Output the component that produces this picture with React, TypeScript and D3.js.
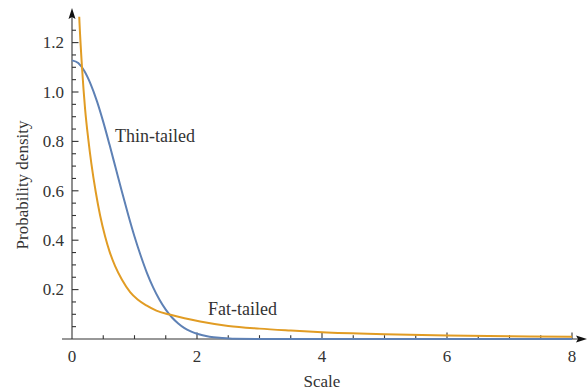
import React from "react";
import { scaleLinear, line, curveMonotoneX, range } from "d3";

// thin-tailed density
const thinX = [0, 0.1, 0.2, 0.3, 0.4, 0.5, 0.6, 0.7, 0.8, 0.9, 1.0, 1.1, 1.2, 1.3, 1.4, 1.5, 1.6, 1.7, 1.8, 1.9, 2.0, 2.2, 2.4, 2.6, 3.0, 4.0, 6.0, 8.0];
const thinY = [1.128, 1.117, 1.084, 1.031, 0.962, 0.879, 0.787, 0.691, 0.595, 0.502, 0.415, 0.337, 0.267, 0.208, 0.159, 0.119, 0.087, 0.063, 0.044, 0.031, 0.021, 0.009, 0.004, 0.001, 0.0001, 0, 0, 0];

// fat-tailed density
const fatX = [0.1, 0.12, 0.16, 0.21, 0.26, 0.31, 0.38, 0.45, 0.53, 0.6, 0.69, 0.8, 0.93, 1.05, 1.19, 1.35, 1.56, 1.8, 2.05, 2.5, 3.0, 3.5, 4.0, 5.0, 6.0, 7.0, 8.0];
const fatY = [1.4, 1.28, 1.1, 0.93, 0.81, 0.71, 0.595, 0.5, 0.415, 0.355, 0.295, 0.24, 0.19, 0.16, 0.136, 0.115, 0.099, 0.084, 0.071, 0.053, 0.042, 0.034, 0.027, 0.019, 0.014, 0.011, 0.009];

const xTicks = [0, 2, 4, 6, 8];
const yTicks = [0.2, 0.4, 0.6, 0.8, 1.0, 1.2];

const W = 588;
const H = 391;
const FONT = "'Liberation Serif', 'Times New Roman', serif";
const AXIS = "#333";

type Pt = [number, number];

export default function App() {
  const x = scaleLinear().domain([0, 8]).range([72, 572]);
  const y = scaleLinear().domain([0, 1.3]).range([339, 339 - 1.3 * 247]);

  const path = line<Pt>()
    .x((d) => x(d[0]))
    .y((d) => y(d[1]))
    .curve(curveMonotoneX);

  const thin: Pt[] = thinX.map((v, i) => [v, thinY[i]]);
  const fat: Pt[] = fatX.map((v, i) => [v, fatY[i]]);

  const x0 = x(0);
  const y0 = y(0);
  const minorX = range(0.5, 8.01, 0.5).filter((v) => !xTicks.includes(v));
  const minorY = range(0.05, 1.26, 0.05).filter(
    (v) => !yTicks.some((t) => Math.abs(t - v) < 1e-6)
  );

  return (
    <div style={{ position: "absolute", left: 0, top: 0 }}>
      <svg width={W} height={H} style={{ display: "block", background: "#fff" }}>
        <defs>
          <clipPath id="plot">
            <rect x={x0 - 2} y={y(1.305)} width={x(8) - x0 + 4} height={y0 - y(1.305) + 3} />
          </clipPath>
        </defs>

        {/* axes */}
        <g stroke={AXIS} strokeWidth={1.1}>
          <line x1={62} x2={578} y1={y0} y2={y0} />
          <line x1={x0} x2={x0} y1={y0} y2={17} />
          {xTicks.filter((v) => v > 0).map((v) => (
            <line key={"xm" + v} x1={x(v)} x2={x(v)} y1={y0} y2={y0 - 6.5} />
          ))}
          {minorX.map((v) => (
            <line key={"xn" + v} x1={x(v)} x2={x(v)} y1={y0} y2={y0 - 3.8} />
          ))}
          {yTicks.map((v) => (
            <line key={"ym" + v} x1={x0} x2={x0 + 6.5} y1={y(v)} y2={y(v)} />
          ))}
          {minorY.map((v) => (
            <line key={"yn" + v} x1={x0} x2={x0 + 4} y1={y(v)} y2={y(v)} />
          ))}
        </g>
        <path d={`M587,${y0} L576,${y0 - 3.5} L578,${y0} L576,${y0 + 3.5} Z`} fill="#111" />
        <path d={`M${x0},8 L${x0 - 3.5},19 L${x0},17 L${x0 + 3.5},19 Z`} fill="#111" />

        {/* tick labels */}
        <g fontFamily={FONT} fontSize={17} fill={AXIS}>
          {xTicks.map((v) => (
            <text key={"xl" + v} x={x(v)} y={361.5} textAnchor="middle">
              {v}
            </text>
          ))}
          {yTicks.map((v) => (
            <text key={"yl" + v} x={64} y={y(v)} dy="0.34em" textAnchor="end">
              {v.toFixed(1)}
            </text>
          ))}
        </g>

        {/* curves */}
        <g clipPath="url(#plot)" fill="none" strokeWidth={2}>
          <path d={path(thin) ?? ""} stroke="#5E81B5" />
          <path d={path(fat) ?? ""} stroke="#E19C24" />
        </g>

        {/* labels */}
        <g fontFamily={FONT} fontSize={18} fill={AXIS}>
          <text x={115} y={141.5}>Thin-tailed</text>
          <text x={208} y={315}>Fat-tailed</text>
        </g>
        <g fontFamily={FONT} fontSize={17} fill={AXIS}>
          <text x={x(4)} y={386.5} textAnchor="middle">Scale</text>
          <text transform="translate(28,185) rotate(-90)" textAnchor="middle">
            Probability density
          </text>
        </g>
      </svg>
    </div>
  );
}
